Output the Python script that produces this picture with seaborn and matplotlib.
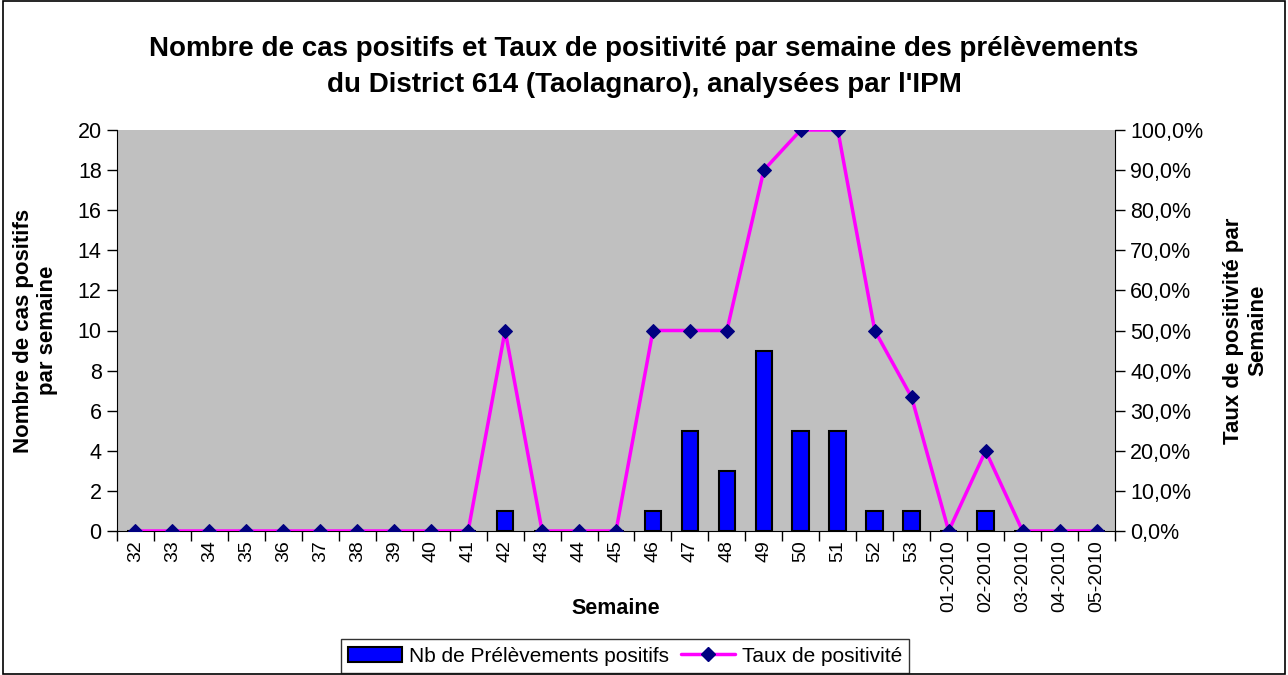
import numpy as np
import pandas as pd
import matplotlib
matplotlib.use('Agg')
import matplotlib.pyplot as plt
import seaborn as sns
from matplotlib.ticker import FuncFormatter
from matplotlib.lines import Line2D
from matplotlib.patches import Patch, Rectangle

semaines = ['32', '33', '34', '35', '36', '37', '38', '39', '40', '41', '42', '43',
            '44', '45', '46', '47', '48', '49', '50', '51', '52', '53',
            '01-2010', '02-2010', '03-2010', '04-2010', '05-2010']
nb_positifs = [0, 0, 0, 0, 0, 0, 0, 0, 0, 0, 1, 0,
               0, 0, 1, 5, 3, 9, 5, 5, 1, 1,
               0, 1, 0, 0, 0]
taux = [0, 0, 0, 0, 0, 0, 0, 0, 0, 0, 50, 0,
        0, 0, 50, 50, 50, 90, 100, 100, 50, 33.3,
        0, 20, 0, 0, 0]

df = pd.DataFrame({'semaine': semaines, 'nb': nb_positifs, 'taux': taux})
df['pos'] = np.arange(len(df))

sns.set_style('white')
plt.rcParams['font.family'] = ['Liberation Sans', 'DejaVu Sans']
plt.rcParams['text.color'] = 'black'
plt.rcParams['axes.labelcolor'] = 'black'
plt.rcParams['xtick.color'] = 'black'
plt.rcParams['ytick.color'] = 'black'

fig = plt.figure(figsize=(12.88, 6.75), dpi=100)
ax = fig.add_axes([117/1288, 1 - 531/675, (1115-117)/1288, (531-130)/675])
ax.set_facecolor('#C0C0C0')

sns.barplot(data=df, x='semaine', y='nb', color='#0000FF', width=0.45,
            edgecolor='black', linewidth=1.5, saturation=1, ax=ax)
ax.set_ylim(0, 20)
ax.set_xlim(-0.5, len(df) - 0.5)
ax.set_yticks(range(0, 21, 2))
ax.tick_params(axis='y', labelsize=15.5, direction='out', length=7, width=1, left=True, pad=4)
ax.tick_params(axis='x', labelsize=14, labelrotation=90, bottom=False, pad=3)
ax.set_xticks(np.arange(len(df) + 1) - 0.5, minor=True)
ax.tick_params(axis='x', which='minor', bottom=True, length=7, width=1, direction='out')
ax.set_xlabel('Semaine', fontsize=15.5, fontweight='bold')
ax.xaxis.set_label_coords(0.5, -(598 - 531) / 401)
ax.set_ylabel('Nombre de cas positifs\npar semaine', fontsize=16, fontweight='bold', labelpad=14)
for s in ['top', 'right']:
    ax.spines[s].set_visible(False)
ax.spines['left'].set_color('black')
ax.spines['bottom'].set_color('black')

ax2 = ax.twinx()
sns.lineplot(data=df, x='pos', y='taux', color='#FF00FF', linewidth=2.5,
             marker='D', markersize=7, markerfacecolor='#000080',
             markeredgecolor='#000080', ax=ax2)
ax2.set_ylim(0, 100)
ax2.set_xlim(-0.5, len(df) - 0.5)
ax2.set_yticks(range(0, 101, 10))
ax2.yaxis.set_major_formatter(FuncFormatter(lambda v, p: f'{v:.1f}%'.replace('.', ',')))
ax2.tick_params(axis='y', labelsize=15.5, direction='out', length=7, width=1, right=True, pad=4)
ax2.set_ylabel('Taux de positivité par\nSemaine', fontsize=16, fontweight='bold', labelpad=14)
ax2.set_xlabel('')
for s in ['top', 'left', 'bottom']:
    ax2.spines[s].set_visible(False)
ax2.spines['right'].set_color('black')

fig.suptitle("Nombre de cas positifs et Taux de positivité par semaine des prélèvements\n"
             "du District 614 (Taolagnaro), analysées par l'IPM",
             fontsize=20, fontweight='bold', y=0.947, linespacing=1.5)

handles = [Patch(facecolor='#0000FF', edgecolor='black', linewidth=1.5),
           Line2D([0], [0], color='#FF00FF', linewidth=2.5, marker='D',
                  markersize=7, markerfacecolor='#000080', markeredgecolor='#000080')]
leg = fig.legend(handles, ['Nb de Prélèvements positifs', 'Taux de positivité'],
                 loc='center', bbox_to_anchor=(625/1288, 1 - 656/675), ncol=2,
                 fontsize=15, frameon=True, fancybox=False, edgecolor='black',
                 handlelength=2.6, columnspacing=0.6, handletextpad=0.3,
                 borderpad=0.35)
leg.get_frame().set_linewidth(1)

fig.patches.append(Rectangle((0.002, 0.002), 0.996, 0.996, transform=fig.transFigure,
                             fill=False, edgecolor='black', linewidth=1.2))

fig.savefig('out.png', dpi=100)
